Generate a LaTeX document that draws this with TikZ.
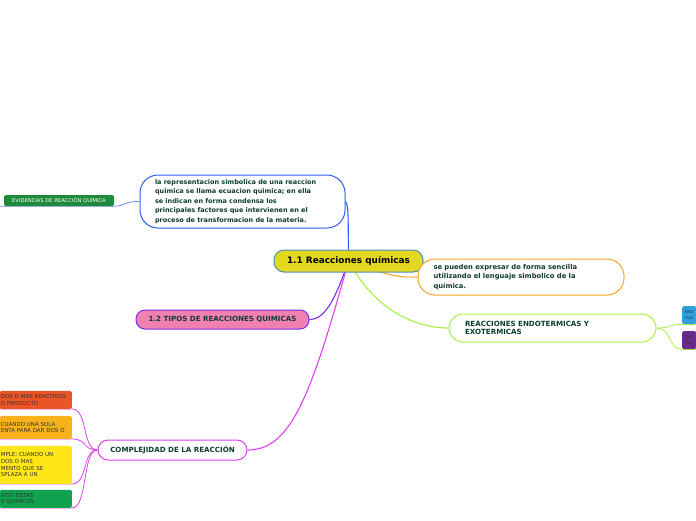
\documentclass[tikz,border=0pt]{standalone}
\usepackage{fontspec}
\setmainfont{DejaVu Sans}
\usetikzlibrary{backgrounds}

\definecolor{txtgreen}{HTML}{0F3D30}
\definecolor{rootfill}{HTML}{E3D71F}
\definecolor{rootline}{HTML}{4A90C0}
\definecolor{simbline}{HTML}{2F5FF0}
\definecolor{evidfill}{HTML}{1F8A3A}
\definecolor{lengline}{HTML}{F5A623}
\definecolor{endoline}{HTML}{A8F040}
\definecolor{endbfill}{HTML}{2FA0DC}
\definecolor{exobfill}{HTML}{6B2A90}
\definecolor{tiposfill}{HTML}{F080B0}
\definecolor{tiposline}{HTML}{7A30E8}
\definecolor{complline}{HTML}{E040F0}
\definecolor{combfill}{HTML}{EA5528}
\definecolor{descfill}{HTML}{F7B21B}
\definecolor{simpfill}{HTML}{FFE619}
\definecolor{doblefill}{HTML}{10A24F}

\begin{document}
\begin{tikzpicture}[x=1pt,y=-1pt,
  idea/.style={draw, fill=white, line width=1pt, text=txtgreen, align=left,
    font=\bfseries\fontsize{6.5}{9.5}\selectfont},
  tag/.style={draw, line width=1pt, text=txtgreen, align=center,
    font=\bfseries\fontsize{7.1}{8}\selectfont},
  leaf/.style={rectangle, rounded corners=1.5pt, text width=70pt, inner xsep=1pt,
    align=left, anchor=south east, text=black!80,
    font=\fontsize{5.5}{6.6}\selectfont},
  corner/.style={rounded corners=1.5pt, anchor=north west, minimum width=14pt,
    minimum height=18pt, inner xsep=1pt, align=left, text=black!80,
    font=\fontsize{3.9}{5.4}\selectfont},
  link/.style={line width=1.1pt}]
\useasboundingbox (0,0) rectangle (696,520);

% centre
\node[draw=rootline, fill=rootfill, line width=1pt, rounded corners=10pt,
  minimum width=149pt, minimum height=22pt, text=black,
  font=\bfseries\fontsize{8.9}{10}\selectfont] (root) at (348.5,261) {1.1 Reacciones químicas};

% first level
\node[idea, draw=simbline, rounded corners=18pt, text width=175pt, inner xsep=15pt,
  minimum height=53pt] (simb) at (242.5,201.5)
  {la representacion simbolica de una reaccion\\
   quimica se llama ecuacion quimica; en ella\\
   se indican en forma condensa los\\
   principales factores que intervienen en el\\
   proceso de transformacion de la materia.};
\node[idea, draw=lengline, rounded corners=17pt, text width=175pt, inner xsep=15.5pt,
  minimum height=36pt, font=\bfseries\fontsize{6.8}{9.3}\selectfont] (leng) at (521,277)
  {se pueden expresar de forma sencilla\\
   utilizando el lenguaje simbolico de la\\
   química.};
\node[idea, draw=endoline, rounded corners=14pt, text width=175pt, inner xsep=16pt,
  minimum height=28pt, font=\bfseries\fontsize{7.1}{8.6}\selectfont] (endo) at (552.5,328)
  {REACCIONES ENDOTERMICAS Y\\ EXOTERMICAS};
\node[tag, draw=tiposline, fill=tiposfill, rounded corners=9pt,
  minimum width=173pt, minimum height=19pt] (tipos) at (222.5,319.5) {1.2 TIPOS DE REACCIONES QUIMICAS};
\node[tag, draw=complline, fill=white, rounded corners=10pt,
  minimum width=149pt, minimum height=20pt] (compl) at (172.5,450) {COMPLEJIDAD DE LA REACCIÓN};

% second level
\node[fill=evidfill, rounded corners=1.5pt, minimum width=110pt, minimum height=11pt,
  inner sep=0pt, text=white, font=\fontsize{5.2}{5.5}\selectfont] (evid) at (59,200.5) {EVIDENCIAS DE REACCIÓN QUÍMICA};
\node[corner, fill=endbfill] (endb) at (682,306) {END\\CUA};
\node[corner, fill=exobfill] (exob) at (682,331) {EXO\\ENE};
\node[leaf, fill=combfill, minimum height=18pt] (comb) at (72,409) {DOS O MAS REACTIVOS\\ O PRODUCTO};
\node[leaf, fill=descfill, minimum height=23pt] (desc) at (72,439) {CUANDO UNA SOLA\\ ENTA PARA DAR DOS O};
\node[leaf, fill=simpfill, minimum height=38pt] (simp) at (72,484) {MPLE: CUANDO UN\\ DOS O MAS\\ MENTO QUE SE\\ SPLAZA A UN};
\node[leaf, fill=doblefill, minimum height=17pt] (doble) at (72,508) {NTO: ESTAS\\ S QUIMICOS.};

\begin{pgfonlayer}{background}
\draw[link, simbline] (root.center) .. controls (348,225) and (349,205) .. (simb.east);
\draw[link, lengline] (root.center) .. controls (385,275) and (400,278) .. (leng.west);
\draw[link, endoline] (root.center) .. controls (375,310) and (415,328) .. (endo.west);
\draw[link, tiposline] (root.center) .. controls (335,300) and (325,319.5) .. (tipos.east);
\draw[link, complline] (root.center) .. controls (310,400) and (290,450) .. (compl.east);
\draw[line width=0.8pt, simbline!70] (simb.west) .. controls (125,201) and (125,206) .. (evid.south east) -- (evid.south west) -- ++(-6,0);
\foreach \b in {endb, exob}
  \draw[line width=0.8pt, endoline] (endo.east) .. controls (672,328) and (668,0|-\b.south) .. (\b.south west) -- (\b.south east);
\foreach \b in {comb, desc, simp, doble}
  \draw[line width=0.8pt, complline] (compl.west) .. controls (82,450) and (88,0|-\b.south) .. (\b.south east) -- ++(-80,0);
\end{pgfonlayer}
\end{tikzpicture}
\end{document}
